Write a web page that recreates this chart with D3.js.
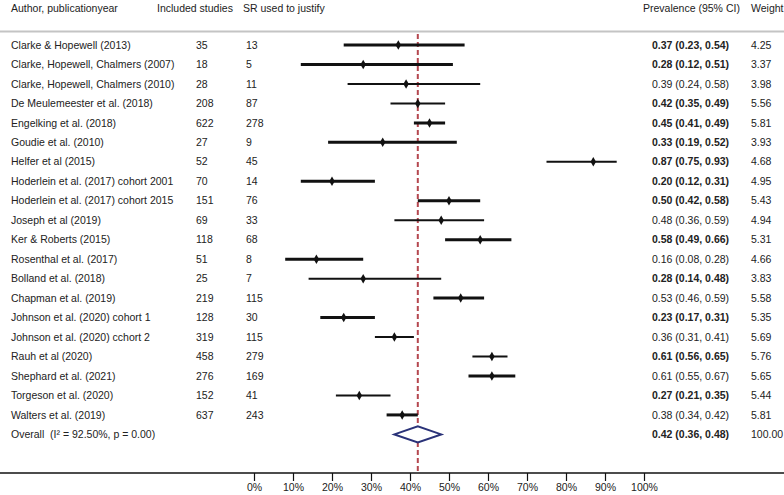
<!DOCTYPE html>
<html>
<head>
<meta charset="utf-8">
<script src="https://cdn.jsdelivr.net/npm/d3@7"></script>
<style>
  html, body { margin: 0; padding: 0; background: #fff; }
  svg { display: block; font-family: "Liberation Sans", Arial, sans-serif; }
</style>
</head>
<body>
<svg id="chart" width="784" height="495"></svg>
<script>
// ---- data ----
const authors = [
  "Clarke & Hopewell (2013)",
  "Clarke, Hopewell, Chalmers (2007)",
  "Clarke, Hopewell, Chalmers (2010)",
  "De Meulemeester et al. (2018)",
  "Engelking et al. (2018)",
  "Goudie et al. (2010)",
  "Helfer et al (2015)",
  "Hoderlein et al. (2017) cohort 2001",
  "Hoderlein et al. (2017) cohort 2015",
  "Joseph et al (2019)",
  "Ker & Roberts (2015)",
  "Rosenthal et al. (2017)",
  "Bolland et al. (2018)",
  "Chapman et al. (2019)",
  "Johnson et al. (2020) cohort 1",
  "Johnson et al. (2020) cchort 2",
  "Rauh et al (2020)",
  "Shephard et al. (2021)",
  "Torgeson et al. (2020)",
  "Walters et al. (2019)"
];
const includedStudies = [35, 18, 28, 208, 622, 27, 52, 70, 151, 69, 118, 51, 25, 219, 128, 319, 458, 276, 152, 637];
const srUsed = [13, 5, 11, 87, 278, 9, 45, 14, 76, 33, 68, 8, 7, 115, 30, 115, 279, 169, 41, 243];
const prevalence = [0.37, 0.28, 0.39, 0.42, 0.45, 0.33, 0.87, 0.20, 0.50, 0.48, 0.58, 0.16, 0.28, 0.53, 0.23, 0.36, 0.61, 0.61, 0.27, 0.38];
const ciLower = [0.23, 0.12, 0.24, 0.35, 0.41, 0.19, 0.75, 0.12, 0.42, 0.36, 0.49, 0.08, 0.14, 0.46, 0.17, 0.31, 0.56, 0.55, 0.21, 0.34];
const ciUpper = [0.54, 0.51, 0.58, 0.49, 0.49, 0.52, 0.93, 0.31, 0.58, 0.59, 0.66, 0.28, 0.48, 0.59, 0.31, 0.41, 0.65, 0.67, 0.35, 0.42];
const weights = ["4.25", "3.37", "3.98", "5.56", "5.81", "3.93", "4.68", "4.95", "5.43", "4.94", "5.31", "4.66", "3.83", "5.58", "5.35", "5.69", "5.76", "5.65", "5.44", "5.81"];
const overallLabel = "Overall\u00A0 (I\u00B2 = 92.50%, p = 0.00)";
const overallEst = 0.42, overallLo = 0.36, overallHi = 0.48;
const overallWeight = "100.00";
const tickValues = [0, 0.1, 0.2, 0.3, 0.4, 0.5, 0.6, 0.7, 0.8, 0.9, 1.0];
const headers = ["Author, publicationyear", "Included studies", "SR used to justify", "Prevalence (95% CI)", "Weight"];

// ---- styles (rendering emphasis seen in the picture) ----
const boldText = [1,1,0,1,1,1,1,1,1,0,1,0,1,0,1,0,1,0,1,0];
const thickLine = [1,1,0,0,1,1,0,1,1,0,1,1,0,1,1,0,0,1,0,1];

// ---- layout ----
const W = 784, H = 495;
const svg = d3.select("#chart");
const textColor = "#222";
const fontSize = 10.5;

const x = d3.scaleLinear().domain([0, 1]).range([254, 644]);
const nRows = authors.length + 1;
const y = d3.scaleLinear().domain([0, nRows - 1]).range([45, 434.4]);
const axisY = 473;

const fmt2 = d3.format(".2f");
const prevText = (e, l, u) => `${fmt2(e)} (${fmt2(l)}, ${fmt2(u)})`;

// header
const headerX = [11, 157, 243, 643, 751];
svg.append("g").selectAll("text").data(headers).join("text")
  .attr("x", (d, i) => headerX[i]).attr("y", 8)
  .attr("dy", "0.35em")
  .attr("font-size", fontSize).attr("fill", textColor)
  .text(d => d);

// header rule
svg.append("line").attr("x1", 0).attr("x2", W).attr("y1", 31.5).attr("y2", 31.5)
  .attr("stroke", "#c4c4c4").attr("stroke-width", 2);

const rows = authors.map((a, i) => ({
  author: a, inc: includedStudies[i], sr: srUsed[i],
  est: prevalence[i], lo: ciLower[i], hi: ciUpper[i], w: weights[i], i
}));

const tg = svg.append("g").attr("font-size", fontSize).attr("fill", textColor);
const rowG = tg.selectAll("g.row").data(rows).join("g").attr("class", "row");
rowG.append("text").attr("x", 11).attr("y", d => y(d.i)).attr("dy", "0.35em").text(d => d.author);
rowG.append("text").attr("x", 196).attr("y", d => y(d.i)).attr("dy", "0.35em").text(d => d.inc);
rowG.append("text").attr("x", 246).attr("y", d => y(d.i)).attr("dy", "0.35em").text(d => d.sr);
rowG.append("text").attr("x", 652).attr("y", d => y(d.i)).attr("dy", "0.35em")
  .attr("font-weight", d => boldText[d.i] ? "bold" : "normal")
  .text(d => prevText(d.est, d.lo, d.hi));
rowG.append("text").attr("x", 751).attr("y", d => y(d.i)).attr("dy", "0.35em").text(d => d.w);

// overall row text
const oy = y(nRows - 1);
tg.append("text").attr("x", 11).attr("y", oy).attr("dy", "0.35em").text(overallLabel);
tg.append("text").attr("x", 652).attr("y", oy).attr("dy", "0.35em").attr("font-weight", "bold")
  .text(prevText(overallEst, overallLo, overallHi));
tg.append("text").attr("x", 751).attr("y", oy).attr("dy", "0.35em").text(overallWeight);

// dashed overall line
svg.append("line")
  .attr("x1", x(overallEst)).attr("x2", x(overallEst))
  .attr("y1", 34).attr("y2", axisY)
  .attr("stroke", "#b5474f").attr("stroke-width", 2)
  .attr("stroke-dasharray", "5,3");

// CI lines
const pg = svg.append("g");
pg.selectAll("line.ci").data(rows).join("line").attr("class", "ci")
  .attr("x1", d => x(d.lo)).attr("x2", d => x(d.hi))
  .attr("y1", d => y(d.i)).attr("y2", d => y(d.i))
  .attr("stroke", "#111").attr("stroke-width", d => thickLine[d.i] ? 3 : 2);

// point estimates
pg.selectAll("path.pt").data(rows).join("path").attr("class", "pt")
  .attr("transform", d => `translate(${x(d.est)},${y(d.i)})`)
  .attr("d", d3.symbol(d3.symbolDiamond, 26)())
  .attr("fill", "#111");

// overall diamond
const dh = 8;
svg.append("polygon")
  .attr("points", [
    [x(overallLo), oy], [x(overallEst), oy - dh],
    [x(overallHi), oy], [x(overallEst), oy + dh]
  ].map(p => p.join(",")).join(" "))
  .attr("fill", "#fff").attr("stroke", "#2a3278").attr("stroke-width", 2);

// axis
svg.append("line").attr("x1", 0).attr("x2", W).attr("y1", axisY).attr("y2", axisY)
  .attr("stroke", "#111").attr("stroke-width", 1.5);
const axis = d3.axisBottom(x).tickValues(tickValues).tickFormat(d3.format(".0%"))
  .tickSize(8).tickPadding(3);
const ag = svg.append("g").attr("transform", `translate(0,${axisY})`).call(axis);
ag.select(".domain").remove();
ag.selectAll(".tick line").attr("stroke", "#111").attr("stroke-width", 1.2);
ag.selectAll(".tick text").attr("font-size", fontSize).attr("fill", textColor)
  .attr("font-family", "'Liberation Sans', Arial, sans-serif");
</script>
</body>
</html>
